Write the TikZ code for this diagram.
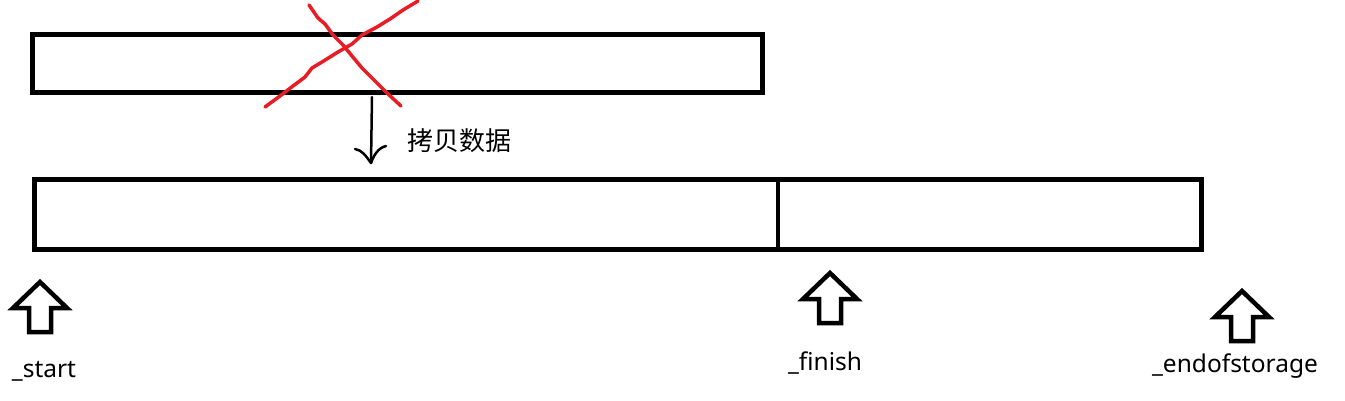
\documentclass[tikz,border=0pt]{standalone}
\usepackage{fontspec}
\setmainfont{Noto Sans}
\newfontfamily\cjk{Noto Sans CJK SC}
\begin{document}
\begin{tikzpicture}[x=1pt,y=-1pt,
  box/.style={draw=black,line width=4.5pt,inner sep=0pt,minimum width=#1},
  lbl/.style={font=\fontsize{24.5}{28}\selectfont,inner sep=0pt},
  blk/.style={draw=black,line width=4.5pt,line join=miter},
  redx/.style={draw={rgb,255:red,232;green,28;blue,36},line width=3.5pt,line cap=round,line join=round},
  uparrow/.pic={\draw[blk] (0,0) -- (27,26) -- (11,26) -- (11,50) -- (-11,50) -- (-11,26) -- (-27,26) -- cycle;}
]
\useasboundingbox (0,0) rectangle (1345,400);
% top rectangle
\node[box=730pt,minimum height=58pt,anchor=north west] (old) at (30,32) {};
% bottom rectangle
\node[box=1167pt,minimum height=70pt,anchor=north west] (new) at (32,177) {};
\coordinate (div1) at (778,177);
\coordinate (div2) at (778,247);
\draw[line width=3.5pt] (div1) -- (div2);
% copy arrow
\coordinate (cpA) at (372,97);
\coordinate (cpB) at (371,163);
\coordinate (hL) at (355,149);
\coordinate (hR) at (386,146);
\draw[line width=2.5pt,line cap=round] (cpA) -- (cpB);
\draw[line width=2.5pt,line cap=round,line join=round] (hL) .. controls (362,150) and (366,156) .. (cpB) .. controls (374,155) and (378,148) .. (hR);
\node[lbl,anchor=west,font=\fontsize{26}{30}\selectfont] (copy) at (407,141) {\cjk 拷贝数据};
% red X
\coordinate (x1a) at (309,5);
\coordinate (x1b) at (401,106);
\coordinate (x2a) at (265,107);
\coordinate (x2b) at (418,1);
\draw[redx] (x1a) -- (318,18) -- (325,24) -- (333,35) -- (343,45) -- (352,56) -- (362,68) -- (374,80) -- (387,93) -- (x1b);
\draw[redx] (x2a) -- (280,96) -- (293,86) -- (305,77) -- (312,68) -- (322,62) -- (338,52) -- (352,44) -- (362,35) -- (377,27) -- (390,19) -- (403,10) -- (x2b);
% pointer arrows
\pic at (40,282) {uparrow};
\pic at (830,273) {uparrow};
\pic at (1242,291) {uparrow};
\node[lbl] (start) at (44,371) {\_start};
\node[lbl] (finish) at (825,363) {\_finish};
\node[lbl] (end) at (1235,366) {\_endofstorage};
\end{tikzpicture}
\end{document}
